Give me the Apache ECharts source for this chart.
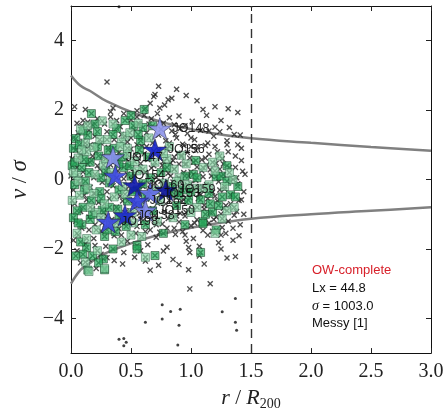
<!DOCTYPE html>
<html><head><meta charset="utf-8">
<script src="https://cdn.jsdelivr.net/npm/echarts@6/dist/echarts.min.js"></script>
<style>html,body{margin:0;padding:0;background:#fff}#c{width:447px;height:416px}</style>
</head><body><div id="c"></div>
<script>
// ---------- data ----------
const xTicks = [0, 0.5, 1, 1.5, 2, 2.5, 3];
const yTicks = [-4, -2, 0, 2, 4];
const cutRadius = 1.5;

const upperCurveR = [0, 0.08, 0.16, 0.3, 0.55, 0.82, 1.1, 1.5, 2.0, 2.5, 3.0];
const upperCurveV = [3.0, 2.7, 2.55, 2.25, 1.88, 1.6, 1.38, 1.19, 1.06, 0.94, 0.83];
const lowerCurveR = [0, 0.08, 0.16, 0.27, 0.55, 0.82, 1.1, 1.5, 2.0, 2.5, 3.0];
const lowerCurveV = [-3.0, -2.6, -2.4, -2.15, -1.78, -1.52, -1.33, -1.13, -1.0, -0.9, -0.8];

// members (crosses) not marked green
const crosses = [
[0.03,2.1],[0.12,2.02],[0.30,2.81],[0.35,2.06],[0.66,2.2],[0.69,2.39],[0.73,2.69],[0.74,2.06],[0.81,2.3],[0.84,2.34],[0.96,2.42],[1.05,2.27],[1.10,2.02],[1.31,2.04],[1.39,1.93],[0.62,2.05],[0.78,2.15],[0.55,1.98],
[0.05,1.62],[0.09,1.55],[0.14,1.66],[0.18,1.58],[0.22,1.75],[0.28,1.6],[0.33,1.8],[0.38,1.7],[0.44,1.9],[0.5,1.72],[0.57,1.6],[0.61,1.85],[0.67,1.75],[0.72,1.9],[0.77,1.62],[0.82,1.78],[0.9,1.83],[0.95,1.55],[1.01,1.68],[1.13,1.85],[1.2,1.51],[1.25,1.7],[0.86,1.58],[0.41,1.52],
[0.02,1.2],[0.06,1.35],[0.1,1.1],[0.15,1.42],[0.2,1.25],[0.25,1.05],[0.3,1.38],[0.36,1.15],[0.42,1.3],[0.47,1.08],[0.52,1.45],[0.58,1.2],[0.63,1.35],[0.68,1.05],[0.73,1.28],[0.79,1.12],[0.84,1.4],[0.88,1.2],[0.93,1.02],[0.97,1.33],[1.03,1.15],[1.08,1.42],[1.14,1.05],[1.19,1.25],[1.24,1.38],[1.3,1.12],[1.36,1.3],[1.41,1.28],[1.39,1.0],[0.91,1.47],[0.55,1.0],[0.16,1.0],
[0.01,0.6],[0.04,0.85],[0.08,0.72],[0.12,0.95],[0.17,0.55],[0.21,0.8],[0.26,0.66],[0.31,0.92],[0.37,0.52],[0.4,0.78],[0.46,0.6],[0.5,0.88],[0.54,0.7],[0.59,0.96],[0.64,0.58],[0.69,0.82],[0.74,0.64],[0.8,0.9],[0.85,0.55],[0.89,0.76],[0.94,0.98],[0.99,0.62],[1.04,0.84],[1.09,0.57],[1.15,0.73],[1.2,0.95],[1.26,0.6],[1.31,0.8],[1.37,0.68],[1.42,0.9],[0.77,0.52],[1.0,0.95],[1.12,0.98],[0.61,0.74],[0.92,0.66],
[0.0,0.1],[0.05,0.35],[0.1,0.22],[0.14,0.45],[0.19,0.05],[0.24,0.3],[0.28,0.15],[0.33,0.42],[0.39,0.25],[0.44,0.02],[0.48,0.38],[0.53,0.12],[0.58,0.46],[0.62,0.2],[0.67,0.33],[0.71,0.06],[0.76,0.41],[0.81,0.18],[0.86,0.3],[0.9,0.04],[0.95,0.44],[1.0,0.22],[1.05,0.36],[1.1,0.08],[1.16,0.28],[1.21,0.47],[1.27,0.14],[1.32,0.35],[1.38,0.05],[1.43,0.24],[0.83,0.48],[1.13,0.42],[0.98,0.1],[1.24,0.3],
[0.02,-0.3],[0.07,-0.12],[0.11,-0.45],[0.16,-0.22],[0.2,-0.4],[0.26,-0.08],[0.3,-0.35],[0.35,-0.18],[0.41,-0.48],[0.46,-0.28],[0.51,-0.05],[0.56,-0.42],[0.6,-0.2],[0.65,-0.33],[0.7,-0.1],[0.75,-0.46],[0.8,-0.25],[0.85,-0.07],[0.89,-0.4],[0.94,-0.18],[0.99,-0.3],[1.04,-0.02],[1.08,-0.44],[1.13,-0.15],[1.18,-0.36],[1.23,-0.06],[1.28,-0.27],[1.34,-0.47],[1.39,-0.12],[1.44,-0.35],[0.92,-0.05],[1.06,-0.22],[1.2,-0.48],
[0.03,-0.7],[0.08,-0.92],[0.13,-0.58],[0.18,-0.85],[0.23,-0.66],[0.27,-0.95],[0.32,-0.55],[0.38,-0.8],[0.43,-0.62],[0.49,-0.9],[0.53,-0.72],[0.57,-0.98],[0.63,-0.56],[0.68,-0.84],[0.72,-0.68],[0.78,-0.93],[0.82,-0.6],[0.87,-0.78],[0.91,-0.97],[0.96,-0.64],[1.01,-0.86],[1.06,-0.55],[1.11,-0.74],[1.16,-0.95],[1.22,-0.62],[1.27,-0.83],[1.33,-0.7],[1.38,-0.92],[1.42,-0.58],[0.99,-0.52],[1.25,-0.99],
[0.04,-1.2],[0.09,-1.4],[0.15,-1.08],[0.2,-1.3],[0.25,-1.48],[0.34,-1.15],[0.4,-1.42],[0.45,-1.25],[0.5,-1.05],[0.55,-1.35],[0.6,-1.18],[0.66,-1.45],[0.7,-1.02],[0.76,-1.28],[0.81,-1.12],[0.86,-1.4],[0.9,-1.22],[0.95,-1.05],[1.0,-1.33],[1.05,-1.16],[1.1,-1.47],[1.15,-1.25],[1.21,-1.08],[1.26,-1.38],[1.31,-1.2],[1.36,-1.03],[1.41,-1.3],[1.18,-1.49],[0.93,-1.5],
[0.06,-1.6],[0.12,-1.85],[0.19,-1.7],[0.29,-1.92],[0.36,-1.62],[0.47,-1.78],[0.54,-1.55],[0.64,-1.88],[0.71,-1.66],[0.8,-1.95],[0.87,-1.58],[0.98,-1.96],[1.02,-1.7],[1.07,-1.92],[1.14,-1.6],[1.23,-1.82],[1.29,-1.55],[1.35,-1.75],[1.4,-1.62],[0.74,-1.52],[0.96,-1.78],
[0.21,-2.56],[0.36,-2.33],[0.43,-2.43],[0.53,-2.24],[0.66,-2.61],[0.73,-2.47],[0.77,-2.06],[0.98,-2.6],[0.99,-2.1],[0.99,-3.15],[1.07,-2.2],[1.11,-2.43],[1.16,-3.0],[1.30,-2.26],[1.37,-2.22],[0.58,-2.05],[0.25,-2.15],[0.15,-2.3],[0.44,-2.1],[0.85,-2.3],
[0.47,0.15],[0.52,-0.6],[0.56,0.62],[0.6,-0.85],[0.63,0.95],[0.66,-0.15],[0.69,0.4],[0.71,-1.3],[0.73,0.85],[0.75,-0.05],[0.78,0.3],[0.79,-0.7],[0.82,1.05],[0.84,-0.35],[0.86,0.65],[0.88,-1.05],[0.9,0.45],[0.92,-0.62],[0.94,0.2],[0.96,-0.95],[0.97,0.78],[1.0,-0.12],[1.02,0.5],[1.03,-1.25],[1.05,0.95],[1.07,-0.4],[1.09,0.25],[1.11,-0.85],[1.12,0.62],[1.14,-0.55],[1.17,0.1],[1.19,-1.15],[1.22,0.8],[1.24,-0.3],[1.27,0.45],[1.29,-0.75],[1.3,1.0],[1.33,-0.05],[1.35,-1.4],[1.37,0.35],[1.4,-0.6],[1.42,0.55],[1.44,-1.0],[1.45,0.15],[0.5,1.2],[0.58,-0.1],[0.62,-1.5],[0.8,-1.4],[0.83,0.1],[0.87,1.3],[0.95,-1.6],[1.0,1.2],[1.15,1.4],[1.25,-1.6],[1.32,1.5],[0.65,1.6],[0.75,1.45],[0.45,-0.95],[0.38,0.05],[0.3,-1.05],[0.22,0.4],[0.15,-1.45],[0.08,0.05],[0.1,1.7],[0.2,-1.9],[0.33,1.95],[0.26,-1.25],[0.18,0.68],[0.42,-1.6],[0.55,1.8],[0.7,2.45],[0.88,2.6],[1.2,2.1],[0.9,-2.45],[1.25,-2.0],[0.62,-2.35],[0.3,-2.25],[0.05,-2.05],[0.08,-2.4],[0.02,-1.75]
];

// green-marked members (darker shade)
const greensDark = [
[0.17,1.9],[0.14,1.28],[0.22,1.38],[0.38,1.48],[0.52,1.55],[0.6,1.5],[0.61,2.02],[0.35,1.3],[0.04,1.18],[0.58,1.12],[0.68,1.55],
[0.02,0.9],[0.09,0.35],[0.16,0.5],[0.23,0.68],[0.31,0.85],[0.37,0.6],[0.44,0.35],[0.5,0.1],[0.57,0.85],[0.64,0.65],[0.11,0.58],[0.25,0.05],[0.4,0.45],[0.01,0.4],
[0.03,-0.15],[0.1,-0.8],[0.17,-0.6],[0.24,-0.35],[0.32,-0.1],[0.39,-0.85],[0.47,-0.62],[0.55,-0.3],[0.62,-0.5],[0.12,-0.05],[0.26,-0.88],[0.6,-0.12],[0.05,-0.9],
[0.02,-1.1],[0.09,-1.3],[0.16,-1.15],[0.28,-1.64],[0.37,-1.5],[0.46,-1.35],[0.55,-1.9],[0.62,-1.3],[0.13,-1.96],[0.4,-1.1],
[0.1,-2.15],[0.14,-2.61],[0.27,-2.29],[0.28,-2.6],[0.55,-2.0],[0.7,-2.19],[0.35,-2.0],
[0.75,0.2],[0.83,-0.4],[0.88,-0.75],[0.93,-0.3],[0.98,-0.6],[1.02,0.15],[1.08,-0.58],[1.12,-1.0],[1.18,-0.94],[1.21,0.08],[1.26,-0.5],[1.33,-0.44],[1.39,-0.2],[1.1,-1.22],[1.21,-1.45],[1.1,-1.27],[0.77,-1.55],[1.08,-2.1],[0.68,-0.9],[0.95,-1.3],[1.3,0.4],[1.04,0.55],[0.66,0.05],[1.16,-0.7],
[0.03,0.5],[0.07,1.0],[0.11,-0.3],[0.15,0.2],[0.18,-1.0],[0.22,0.95],[0.25,-0.55],[0.29,0.25],[0.32,-0.8],[0.36,0.9],[0.4,-0.3],[0.43,0.65],[0.46,-1.1],[0.49,0.4],[0.52,-0.35],[0.06,-1.25],[0.1,1.4],[0.2,1.6],[0.3,-1.45],[0.04,-2.2],[0.08,-1.8],[0.18,-2.2],[0.23,-2.4],[0.45,1.7],[0.5,1.85],[0.56,1.3],[0.8,0.35],[0.85,-0.2],[0.9,-0.45],[0.95,0.1],[1.0,-0.35],[1.05,0.05],[1.15,-0.4],[1.25,0.1],[1.3,-0.05],[1.37,-0.5],[1.23,-0.75]
];
// green-marked members (lighter shade)
const greensLight = [
[0.26,1.69],[0.08,1.45],[0.3,1.15],[0.45,1.25],[0.56,1.62],[0.49,1.35],[0.12,1.05],[0.42,1.08],[0.65,1.2],
[0.06,0.62],[0.13,0.8],[0.2,0.15],[0.27,0.42],[0.34,0.2],[0.41,0.95],[0.47,0.72],[0.53,0.52],[0.6,0.3],[0.05,0.12],[0.19,0.92],[0.29,0.6],[0.55,0.25],
[0.07,-0.45],[0.14,-0.25],[0.21,-0.95],[0.28,-0.7],[0.36,-0.5],[0.43,-0.2],[0.51,-0.95],[0.58,-0.75],[0.01,-0.6],[0.19,-0.4],[0.45,-0.42],
[0.05,-1.55],[0.13,-1.7],[0.21,-1.45],[0.33,-1.25],[0.42,-1.8],[0.5,-1.6],[0.59,-1.64],[0.25,-1.1],
[0.12,-2.38],[0.15,-2.65],[0.28,-2.56],[0.62,-2.24],[0.22,-2.05],
[0.7,0.5],[0.78,-0.1],[0.8,0.6],[0.86,0.3],[0.9,0.05],[0.96,0.45],[1.0,-0.95],[1.05,-0.25],[1.1,0.35],[1.15,-0.15],[1.2,0.25],[1.24,0.68],[1.28,-0.2],[1.35,0.0],[1.26,-1.13],[1.2,-1.55],[0.72,-1.2],[0.74,-0.6],[0.85,-1.1],[0.92,0.7],[0.82,0.95],[0.7,-0.3],[1.36,-0.8],[1.32,0.2],
[0.02,0.2],[0.09,0.85],[0.16,-0.8],[0.24,1.15],[0.33,0.0],[0.38,-1.25],[0.47,0.9],[0.52,-1.25],[0.06,-0.05],[0.14,1.55],[0.35,1.6],[1.12,-0.25],[0.97,-0.15],[1.18,0.5],[0.77,0.75],[1.3,-0.9],[1.05,-0.8],[0.88,-0.05]
];

// outliers / non-members
const nonMembers = [
[0.40,4.98],[0.76,-3.61],[0.83,-3.80],[0.91,-3.74],[0.62,-4.11],[0.76,-4.02],[0.90,-4.2],[0.40,-4.6],[0.44,-4.58],[0.46,-4.69],[0.44,-4.79],[0.89,-4.77],[1.37,-3.43],[1.26,-3.81],[1.37,-4.11],[1.38,-4.34]
];

// jellyfish galaxies (stars)
const starNames = ['JO148','JO156','JO147','JO154','JO160','JO153','JO162','JO159','JO150','JO198','JO138'];
const starR     = [0.74, 0.70, 0.35, 0.37, 0.53, 0.66, 0.55, 0.79, 0.62, 0.31, 0.45];
const starV     = [1.47, 0.86, 0.64, 0.11, -0.17, -0.39, -0.61, -0.30, -0.89, -1.22, -1.03];
const starTone  = [0.15, 0.75, 0.2, 0.5, 0.9, 0.35, 0.55, 1.0, 0.25, 0.5, 0.7];

// annotation
const annTitle = 'OW-complete';
const annLx = '44.8';
const annSigma = '1003.0';
const annMorph = 'Messy [1]';

// ---------- chart ----------
const crossPath = 'path://M0,1.6L1.6,0L5,3.4L8.4,0L10,1.6L6.6,5L10,8.4L8.4,10L5,6.6L1.6,10L0,8.4L3.4,5Z';
const starPath = 'path://M50,0L61.8,35.4L100,35.4L69.1,57.3L80.9,92.7L50,70.8L19.1,92.7L30.9,57.3L0,35.4L38.2,35.4Z';
const serif = 'Liberation Serif';
const sans = 'Liberation Sans';
const fmt = v => String(v).replace('-', '\u2212');

const allMembers = crosses.concat(greensDark, greensLight);
const starData = starR.map((r, i) => [r, starV[i], starTone[i], starNames[i]]);

const baseX = {
  type: 'value', min: 0, max: 3, interval: 0.5,
  axisLine: {show: true, onZero: false, lineStyle: {color: '#111', width: 1}},
  axisTick: {show: true, inside: true, length: 5, lineStyle: {color: '#222'}, customValues: xTicks},
  splitLine: {show: false}
};
const baseY = {
  type: 'value', min: -5, max: 5,
  axisLine: {show: true, onZero: false, lineStyle: {color: '#111', width: 1}},
  axisTick: {show: true, inside: true, length: 5, lineStyle: {color: '#222'}, customValues: yTicks},
  splitLine: {show: false}
};

const chart = echarts.init(document.getElementById('c'), null, {renderer: 'canvas'});
chart.setOption({
  animation: false,
  backgroundColor: '#fff',
  grid: {left: 71, top: 6, width: 360, height: 360},
  xAxis: [
    Object.assign({}, baseX, {
      position: 'bottom',
      axisLabel: {show: true, customValues: xTicks, formatter: v => v.toFixed(1), fontFamily: serif, fontSize: 20, color: '#222', margin: 9},
      name: '{i|r} / {i|R}{s|200}', nameLocation: 'middle', nameGap: 30,
      nameTextStyle: {fontFamily: serif, fontSize: 21, color: '#222',
        rich: {i: {fontFamily: serif, fontStyle: 'italic', fontSize: 22, color: '#222'},
               s: {fontFamily: serif, fontSize: 14, color: '#222', padding: [12, 0, 0, 0]}}}
    }),
    Object.assign({}, baseX, {position: 'top', axisLabel: {show: false}})
  ],
  yAxis: [
    Object.assign({}, baseY, {
      position: 'left',
      axisLabel: {show: true, customValues: yTicks, formatter: fmt, fontFamily: serif, fontSize: 20, color: '#222', margin: 7},
      name: '{i|v} / {i|\u03c3}', nameLocation: 'middle', nameGap: 38, nameRotate: 90,
      nameTextStyle: {fontFamily: serif, fontSize: 22, color: '#222',
        rich: {i: {fontFamily: serif, fontStyle: 'italic', fontSize: 23, color: '#222'}}}
    }),
    Object.assign({}, baseY, {position: 'right', axisLabel: {show: false}})
  ],
  visualMap: [{
    show: false, seriesIndex: 5, dimension: 2, min: 0, max: 1,
    inRange: {color: ['#b0b4f0', '#7a84ea', '#3c48e0', '#1624c8', '#0a1298']}
  }],
  series: [
    {
      type: 'line', name: 'upper', data: upperCurveR.map((r, i) => [r, upperCurveV[i]]),
      smooth: 0.4, symbol: 'none', lineStyle: {color: '#808080', width: 2.5}, z: 1,
      markLine: {
        silent: true, symbol: 'none', label: {show: false},
        lineStyle: {color: '#333', width: 1.4, type: [9, 6]},
        data: [{xAxis: cutRadius}]
      }
    },
    {
      type: 'line', name: 'lower', data: lowerCurveR.map((r, i) => [r, lowerCurveV[i]]),
      smooth: 0.4, symbol: 'none', lineStyle: {color: '#808080', width: 2.5}, z: 1
    },
    {
      type: 'scatter', name: 'members', data: allMembers, symbol: crossPath, symbolSize: 6,
      itemStyle: {color: '#222'}, z: 2
    },
    {
      type: 'scatter', name: 'greenDark', data: greensDark, symbol: 'rect', symbolSize: 8,
      itemStyle: {color: 'rgba(40,172,92,0.85)', borderColor: '#123a20', borderWidth: 0.7}, z: 3
    },
    {
      type: 'scatter', name: 'greenLight', data: greensLight, symbol: 'rect', symbolSize: 8,
      itemStyle: {color: 'rgba(140,215,168,0.85)', borderColor: '#24553a', borderWidth: 0.6}, z: 3
    },
    {
      type: 'scatter', name: 'stars', data: starData, symbol: starPath, symbolSize: [23, 22],
      itemStyle: {borderColor: '#222244', borderWidth: 0.6, opacity: 0.92}, z: 4,
      label: {show: true, position: 'right', distance: 1, formatter: p => p.data[3],
        fontFamily: sans, fontSize: 12.5, color: '#111'}
    },
    {
      type: 'scatter', name: 'nonMembers', data: nonMembers, symbolSize: 3,
      itemStyle: {color: '#111'}, z: 2
    }
  ],
  graphic: [
    {type: 'text', left: 312, top: 264, style: {text: annTitle, fontFamily: sans, fontSize: 13, fill: '#d8202a'}},
    {type: 'text', left: 312, top: 282, style: {text: 'Lx = ' + annLx, fontFamily: sans, fontSize: 13, fill: '#111'}},
    {type: 'text', left: 312, top: 299, style: {text: '{i|\u03c3} = ' + annSigma, fontFamily: sans, fontSize: 13, fill: '#111',
      rich: {i: {fontFamily: serif, fontStyle: 'italic', fontSize: 14, fill: '#111'}}}},
    {type: 'text', left: 312, top: 317, style: {text: annMorph, fontFamily: sans, fontSize: 13, fill: '#111'}}
  ]
});
</script>
</body></html>
